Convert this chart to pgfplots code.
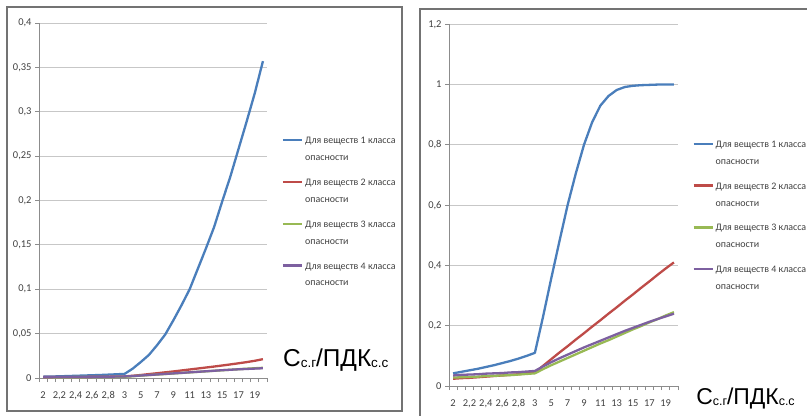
\documentclass[border=0pt]{standalone}
\usepackage{pgfplots}
\pgfplotsset{compat=1.18}
\usepackage{pgfplotstable}
\usepackage{fontspec}
\setmainfont{Carlito}
\newfontfamily\arial{Liberation Sans}
\definecolor{c1}{RGB}{74,126,187}
\definecolor{c2}{RGB}{190,75,72}
\definecolor{c3}{RGB}{152,185,84}
\definecolor{c4}{RGB}{125,96,160}
\pgfplotstableread{
i b1 r1 g1 p1 b2 r2 g2 p2
0 0.0015 0.0010 0.0008 0.0010 0.042 0.024 0.028 0.035
1 0.0017 0.0010 0.0008 0.0010 0.047 0.026 0.029 0.037
2 0.0019 0.0011 0.0009 0.0011 0.052 0.027 0.030 0.038
3 0.0022 0.0011 0.0009 0.0011 0.057 0.029 0.031 0.039
4 0.0025 0.0012 0.0010 0.0012 0.063 0.031 0.033 0.041
5 0.0028 0.0012 0.0010 0.0012 0.069 0.033 0.034 0.042
6 0.0031 0.0013 0.0011 0.0013 0.076 0.035 0.035 0.043
7 0.0034 0.0014 0.0011 0.0014 0.083 0.037 0.036 0.045
8 0.0038 0.0015 0.0012 0.0015 0.091 0.039 0.038 0.046
9 0.0042 0.0016 0.0013 0.0016 0.100 0.042 0.040 0.048
10 0.0046 0.0018 0.0014 0.0018 0.110 0.045 0.042 0.050
11 0.0105 0.0025 0.0020 0.0022 0.230 0.067 0.056 0.065
12 0.0180 0.0034 0.0027 0.0028 0.357 0.089 0.069 0.079
13 0.0260 0.0044 0.0033 0.0034 0.480 0.111 0.081 0.092
14 0.0370 0.0054 0.0039 0.0040 0.600 0.132 0.093 0.104
15 0.0490 0.0064 0.0045 0.0046 0.705 0.154 0.105 0.116
16 0.0650 0.0074 0.0051 0.0052 0.800 0.175 0.117 0.128
17 0.0820 0.0085 0.0057 0.0058 0.875 0.197 0.129 0.139
18 0.1000 0.0096 0.0063 0.0064 0.930 0.218 0.141 0.150
19 0.1230 0.0107 0.0069 0.0070 0.962 0.240 0.152 0.161
20 0.1460 0.0118 0.0075 0.0076 0.982 0.261 0.164 0.172
21 0.1700 0.0129 0.0081 0.0082 0.992 0.283 0.176 0.183
22 0.1990 0.0141 0.0087 0.0088 0.996 0.304 0.188 0.193
23 0.2270 0.0153 0.0093 0.0093 0.998 0.326 0.199 0.203
24 0.2580 0.0166 0.0099 0.0098 0.999 0.347 0.211 0.213
25 0.2890 0.0179 0.0105 0.0102 1.000 0.369 0.222 0.222
26 0.3210 0.0194 0.0110 0.0106 1.000 0.390 0.234 0.231
27 0.3570 0.0212 0.0115 0.0110 1.000 0.410 0.245 0.240
}\data
\newcommand{\xlab}[2]{{\arial\fontsize{#1}{#1}\selectfont С\raisebox{-1bp}{\fontsize{#2}{#2}\selectfont с.г}/ПДК\raisebox{-1bp}{\fontsize{#2}{#2}\selectfont с.с}}}
\pgfplotsset{panel/.style={
  scale only axis, anchor=south west,
  xmin=-0.5, xmax=27.5, ymin=0,
  axis x line*=bottom, axis y line*=left,
  axis line style={draw=black!45, line width=0.8bp},
  ymajorgrids, grid style={black!22, line width=0.8bp},
  xtick={-0.5,0.5,...,27.5}, xticklabels={},
  extra x ticks={0,2,...,26},
  extra x tick labels={2,{2,2},{2,4},{2,6},{2,8},3,5,7,9,11,13,15,17,19},
  extra x tick style={major tick length=0pt, grid=none, xticklabel style={yshift=-10bp}},
  tick align=outside, major tick length=4bp,
  tick style={draw=black!45, line width=0.8bp},
  tick label style={font=\fontsize{10.5}{12}\selectfont, text=black!75},
  yticklabel style={/pgf/number format/.cd, fixed, use comma, assume math mode=true},
  every axis plot/.append style={line width=2.3bp, line join=round},
  legend image code/.code={\draw[##1] (0bp,9.5bp) -- (19bp,9.5bp);},
  legend cell align=left,
  legend style={draw=none, fill=none, anchor=north west,
    font=\fontsize{10}{17}\selectfont, text=black!75,
    row sep=13bp, inner sep=0pt,
    cells={align=left, inner xsep=1bp}},
  xlabel style={anchor=base west, inner sep=0pt},
}}
\begin{document}
\begin{tikzpicture}[x=1bp,y=1bp]
\useasboundingbox (0,0) rectangle (807,415);
\draw[black!55, line width=1.2bp] (7,4) rectangle (402,408);
\draw[black!55, line width=1.2bp] (420,-5) rectangle (815,406);
\begin{axis}[panel, at={(39bp,37bp)}, width=228bp, height=355bp,
  ymax=0.4, ytick={0,0.05,0.1,0.15,0.2,0.25,0.3,0.35,0.4},
  legend style={at={(axis description cs:1.064,0.685)}},
  xlabel={\xlab{24.5}{13.5}},
  xlabel style={at={(axis description cs:1.07,0.031)}}]
\addplot[c1] table[x=i,y=b1] {\data};
\addplot[c2] table[x=i,y=r1] {\data};
\addplot[c3] table[x=i,y=g1] {\data};
\addplot[c4] table[x=i,y=p1] {\data};
\legend{Для веществ 1 класса\\опасности, Для веществ 2 класса\\опасности, Для веществ 3 класса\\опасности, Для веществ 4 класса\\опасности}
\end{axis}
\begin{axis}[panel, at={(449bp,29bp)}, width=229bp, height=361.7bp,
  ymax=1.2, ytick={0,0.2,0.4,0.6,0.8,1,1.2},
  legend style={at={(axis description cs:1.062,0.684)}},
  xlabel={\xlab{23}{12.5}},
  xlabel style={at={(axis description cs:1.079,-0.0525)}}]
\addplot[c1] table[x=i,y=b2] {\data};
\addplot[c2] table[x=i,y=r2] {\data};
\addplot[c3] table[x=i,y=g2] {\data};
\addplot[c4] table[x=i,y=p2] {\data};
\legend{Для веществ 1 класса\\опасности, Для веществ 2 класса\\опасности, Для веществ 3 класса\\опасности, Для веществ 4 класса\\опасности}
\end{axis}
\end{tikzpicture}
\end{document}
